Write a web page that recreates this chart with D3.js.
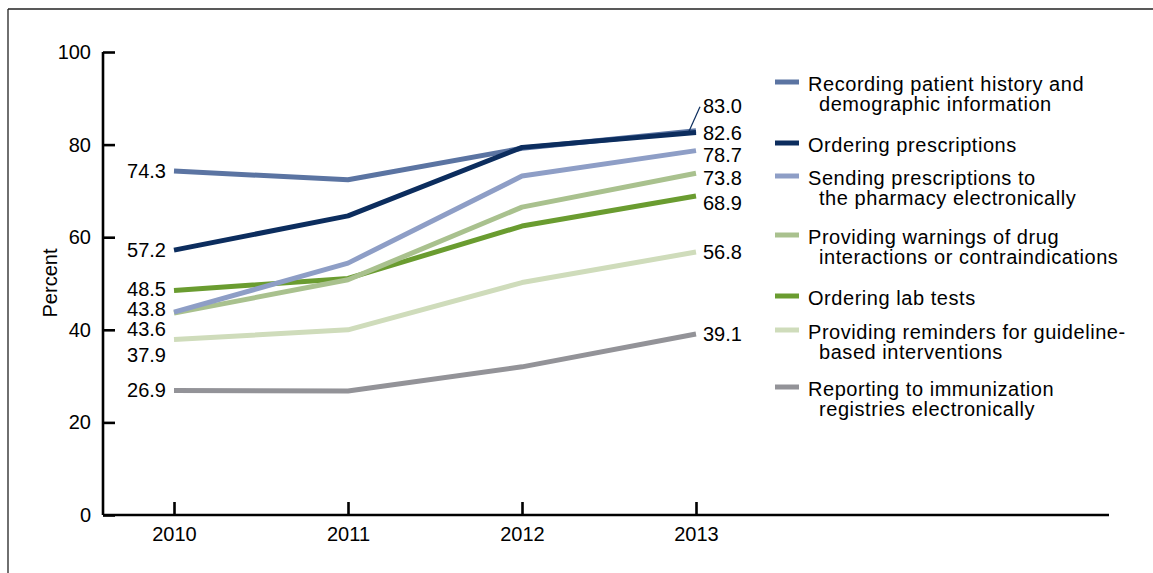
<!DOCTYPE html>
<html>
<head>
<meta charset="utf-8">
<script src="https://cdn.jsdelivr.net/npm/d3@7/dist/d3.min.js"></script>
<style>
  html, body { margin: 0; padding: 0; background: #fff; }
  svg { display: block; font-family: "Liberation Sans", Arial, Helvetica, sans-serif; }
</style>
</head>
<body>
<svg id="chart" width="1153" height="573"></svg>
<script>
// ---- Data ----
const years = [2010, 2011, 2012, 2013];
const yTicks = [0, 20, 40, 60, 80, 100];

const seriesNames = [
  "Recording patient history and demographic information",
  "Ordering prescriptions",
  "Sending prescriptions to the pharmacy electronically",
  "Providing warnings of drug interactions or contraindications",
  "Ordering lab tests",
  "Providing reminders for guideline-based interventions",
  "Reporting to immunization registries electronically"
];
const legendLines = [
  ["Recording patient history and", "demographic information"],
  ["Ordering prescriptions"],
  ["Sending prescriptions to", "the pharmacy electronically"],
  ["Providing warnings of drug", "interactions or contraindications"],
  ["Ordering lab tests"],
  ["Providing reminders for guideline-", "based interventions"],
  ["Reporting to immunization", "registries electronically"]
];
const recording   = [74.3, 72.4, 79.2, 83.0];
const orderingRx  = [57.2, 64.6, 79.4, 82.6];
const sendingRx   = [43.8, 54.4, 73.2, 78.7];
const warnings    = [43.6, 50.8, 66.5, 73.8];
const labTests    = [48.5, 51.1, 62.4, 68.9];
const reminders   = [37.9, 40.0, 50.2, 56.8];
const immunization= [26.9, 26.8, 32.0, 39.1];

const seriesValues = [recording, orderingRx, sendingRx, warnings, labTests, reminders, immunization];
const colors = ["#5b74a2", "#0c2d5e", "#8e9ec6", "#a9c18e", "#6a9c30", "#cfdcbb", "#939398"];

// label nudges (layout only, px)
const leftNudge  = [0, 0, -3, 16, -1.5, 15, 0];
const rightNudge = [-25, 0, 4, 5, 7, 0, 0];

// ---- Layout ----
const svg = d3.select("#chart");
const fs = 20;
const legendFs = 20;

const x = d3.scaleLinear().domain([2010, 2013]).range([174, 696]);
const y = d3.scaleLinear().domain([0, 100]).range([515, 52]);

// frame
svg.append("line").attr("x1", 8).attr("x2", 1153).attr("y1", 9).attr("y2", 9)
  .attr("stroke", "#222").attr("stroke-width", 1.3);
svg.append("line").attr("x1", 8).attr("x2", 8).attr("y1", 9).attr("y2", 573)
  .attr("stroke", "#222").attr("stroke-width", 1.3);

// y axis
const yAxis = d3.axisLeft(y).tickValues(yTicks).tickSize(-12).tickPadding(12).tickFormat(d3.format("d"));
const gy = svg.append("g").attr("transform", "translate(103,0)").call(yAxis);
gy.select(".domain").remove();
gy.append("line").attr("x1", 0).attr("x2", 0).attr("y1", y(100)).attr("y2", y(0))
  .attr("stroke", "#000").attr("stroke-width", 2.6);
gy.selectAll(".tick line").attr("stroke", "#000").attr("stroke-width", 2.6);
gy.selectAll(".tick text").attr("fill", "#000").style("font-size", fs + "px")
  .style("font-family", "'Liberation Sans', Arial, sans-serif");

// x axis
const xAxis = d3.axisBottom(x).tickValues(years).tickSize(-13).tickPadding(12).tickFormat(d3.format("d"));
const gx = svg.append("g").attr("transform", "translate(0,515)").call(xAxis);
gx.select(".domain").remove();
gx.append("line").attr("x1", 103).attr("x2", 1109).attr("y1", 0).attr("y2", 0)
  .attr("stroke", "#000").attr("stroke-width", 2.6);
gx.selectAll(".tick line").attr("stroke", "#000").attr("stroke-width", 2.6);
gx.selectAll(".tick text").attr("fill", "#000").style("font-size", fs + "px")
  .style("font-family", "'Liberation Sans', Arial, sans-serif").attr("dy", "0.35em")
  .attr("y", 19);

// y title
svg.append("text").attr("transform", "translate(57,283) rotate(-90)")
  .attr("text-anchor", "middle").style("font-size", fs + "px").text("Percent");

// lines (draw bottom-most first)
const line = d3.line().x((d, i) => x(years[i])).y(d => y(d));
const drawOrder = [6, 5, 4, 3, 2, 0, 1];
drawOrder.forEach(i => {
  svg.append("path").datum(seriesValues[i]).attr("d", line)
    .attr("fill", "none").attr("stroke", colors[i]).attr("stroke-width", 5)
    .attr("stroke-linejoin", "round");
});

// left labels
seriesValues.forEach((vals, i) => {
  svg.append("text").attr("x", 166).attr("y", y(vals[0]) + leftNudge[i])
    .attr("dy", "0.35em").attr("text-anchor", "end").style("font-size", fs + "px")
    .text(d3.format(".1f")(vals[0]));
});
// right labels
seriesValues.forEach((vals, i) => {
  svg.append("text").attr("x", 703).attr("y", y(vals[3]) + rightNudge[i])
    .attr("dy", "0.35em").attr("text-anchor", "start").style("font-size", fs + "px")
    .text(d3.format(".1f")(vals[3]));
});
// leader line for 83.0
svg.append("line").attr("x1", x(2013) - 7).attr("y1", y(recording[3]) + 0.5)
  .attr("x2", 700).attr("y2", y(recording[3]) + rightNudge[0] + 1)
  .attr("stroke", "#0c2d5e").attr("stroke-width", 1.2);

// legend
const legendY = [82, 143, 176, 235, 296, 330, 387];
legendLines.forEach((lines, i) => {
  const g = svg.append("g");
  g.append("line").attr("x1", 775).attr("x2", 799).attr("y1", legendY[i]).attr("y2", legendY[i])
    .attr("stroke", colors[i]).attr("stroke-width", 5);
  const t = g.append("text").style("font-size", legendFs + "px").style("letter-spacing", "0.55px");
  lines.forEach((s, j) => {
    t.append("tspan").attr("x", j === 0 ? 808 : 819).attr("y", legendY[i] + 2 + j * 20)
      .attr("dy", "0.35em").text(s);
  });
});
</script>
</body>
</html>
